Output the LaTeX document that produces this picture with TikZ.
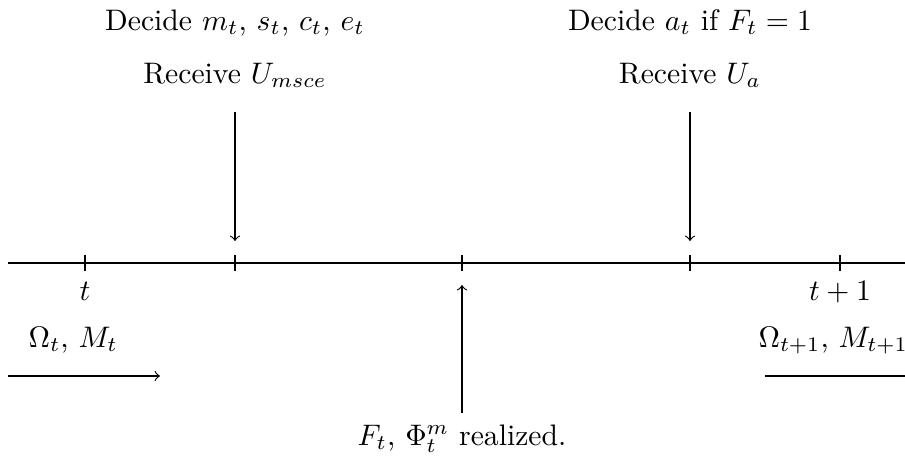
\documentclass[tikz,border=0pt]{standalone}
\usetikzlibrary{calc}
\begin{document}
\begin{tikzpicture}[x=0.337pt,y=-0.337pt,
  lbl/.style={anchor=base,inner sep=0pt,font=\normalsize},
  flow/.style={->}]
\clip (0,0) rectangle (905,461);
% axis
\coordinate (axL) at (8,263);
\coordinate (axR) at (917,263);
\draw (axL) -- (axR);
\foreach \n/\x in {t0/85,d1/235,r/462,d2/690,t1/840}{
  \coordinate (\n) at (\x,263);
  \draw ($(\n)+(0,-8)$) -- ($(\n)+(0,8)$);
}
% top labels
\node[lbl] (dec1) at (235,30) {Decide $m_t$, $s_t$, $c_t$, $e_t$};
\node[lbl] (rec1) at (235,83) {Receive $U_{msce}$};
\node[lbl] (dec2) at (690,30) {Decide $a_t$ if $F_t=1$};
\node[lbl] (rec2) at (690,83) {Receive $U_a$};
\coordinate (a1s) at (235,112);
\coordinate (a1e) at (235,241);
\coordinate (a2s) at (690,112);
\coordinate (a2e) at (690,241);
\draw[flow] (a1s) -- (a1e);
\draw[flow] (a2s) -- (a2e);
% time labels
\node[lbl] (tl) at (85,300) {$t$};
\node[lbl] (tl1) at (840,300) {$t+1$};
\node[lbl,anchor=base west] (om0) at (28,347) {$\Omega_t$, $M_t$};
\node[lbl,anchor=base west] (om1) at (758,347) {$\Omega_{t+1}$, $M_{t+1}$};
\coordinate (l0s) at (8,376);
\coordinate (l0e) at (160,376);
\coordinate (l1s) at (765,376);
\coordinate (l1e) at (917,376);
\draw[flow] (l0s) -- (l0e);
\draw[flow] (l1s) -- (l1e);
% bottom
\coordinate (bs) at (462,413);
\coordinate (be) at (462,285);
\draw[flow] (bs) -- (be);
\node[lbl] (real) at (462,445) {$F_t$, $\Phi_t^m$ realized.};
\end{tikzpicture}
\end{document}
